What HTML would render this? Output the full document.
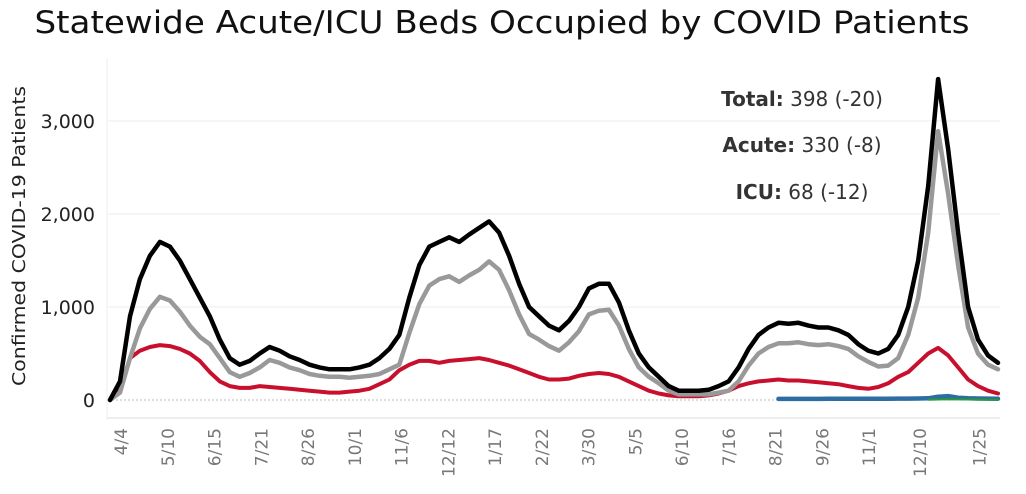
<!DOCTYPE html>
<html><head><meta charset="utf-8">
<style>
html,body{margin:0;padding:0;background:#fff;}
svg{display:block;font-family:"DejaVu Sans","Liberation Sans",sans-serif;}
</style></head>
<body>
<svg id="chart" width="1026" height="494" viewBox="0 0 1026 494" xmlns="http://www.w3.org/2000/svg">
<text x="502" y="33" text-anchor="middle" font-size="31" textLength="935" lengthAdjust="spacingAndGlyphs" fill="#111">Statewide Acute/ICU Beds Occupied by COVID Patients</text>
<g id="grid"></g>
<g id="yaxis"></g>
<g id="xaxis"></g>
<text transform="translate(25,236) rotate(-90)" text-anchor="middle" font-size="18" textLength="300" lengthAdjust="spacingAndGlyphs" fill="#222">Confirmed COVID-19 Patients</text>
<g id="series"></g>
<g font-size="20" fill="#333" text-anchor="middle">
<text x="802" y="106"><tspan font-weight="bold">Total:</tspan> 398 (-20)</text>
<text x="802" y="152"><tspan font-weight="bold">Acute:</tspan> 330 (-8)</text>
<text x="802" y="199"><tspan font-weight="bold">ICU:</tspan> 68 (-12)</text>
</g>
</svg>
<script>
const totalVals=[0,200,900,1300,1550,1700,1650,1500,1300,1100,900,650,450,380,420,500,570,530,470,430,380,350,330,330,330,350,380,450,550,700,1100,1450,1650,1700,1750,1700,1780,1850,1920,1800,1550,1250,1000,900,800,750,850,1000,1200,1250,1250,1050,750,500,350,250,150,100,100,100,110,150,200,350,550,700,780,830,820,830,800,780,780,750,700,600,530,500,550,700,1000,1500,2300,3450,2700,1800,1000,650,480,400];
const acuteVals=[0,80,450,770,980,1110,1070,950,800,680,600,450,300,250,290,350,430,400,350,320,280,260,250,250,240,250,260,280,330,380,720,1030,1230,1300,1330,1270,1340,1400,1490,1400,1180,920,710,650,580,530,620,740,920,960,970,800,550,350,250,180,100,60,60,60,60,80,100,200,370,500,570,610,610,620,600,590,600,580,550,470,410,360,370,450,700,1100,1800,2890,2220,1450,780,500,380,330];
const icuVals=[0,120,450,530,570,590,580,550,500,420,300,200,150,130,130,150,140,130,120,110,100,90,80,80,90,100,120,170,220,320,380,420,420,400,420,430,440,450,430,400,370,330,290,250,220,220,230,260,280,290,280,250,200,150,100,70,50,40,40,40,50,70,100,150,180,200,210,220,210,210,200,190,180,170,150,130,120,140,180,250,300,400,500,560,480,350,220,150,100,70];
const blueStart=67;
const blueVals=[12,12,12,12,12,13,13,13,13,14,14,14,15,15,16,18,35,42,25,18,16,15,14];
const greenStart=82;
const greenVals=[3,5,8,6,5,4,4,3];
const yTicks=[0,1000,2000,3000];
const yTickLabels=["0","1,000","2,000","3,000"];
const xTickDays=[0,36,72,108,144,180,216,252,288,324,360,396,432,468,504,540,576,615,661];
const xTickLabels=["4/4","5/10","6/15","7/21","8/26","10/1","11/6","12/12","1/17","2/22","3/30","5/5","6/10","7/16","8/21","9/26","11/1","12/10","1/25"];

const NS="http://www.w3.org/2000/svg";
const N=totalVals.length;
function xIdx(i){return 110+i*(998-110)/(N-1);}
function xDay(d){return 121+d*1.299;}
function y(v){return 400-v*0.093;}
function mk(tag,attrs,parent){const e=document.createElementNS(NS,tag);for(const k in attrs)e.setAttribute(k,attrs[k]);parent.appendChild(e);return e;}
const grid=document.getElementById('grid'),ya=document.getElementById('yaxis'),xa=document.getElementById('xaxis'),ser=document.getElementById('series');
let vl=mk('line',{x1:107,x2:107,y1:58,y2:420,stroke:'#eee','stroke-width':1},grid);


let bl=mk('line',{x1:107,x2:1000,y1:418,y2:418,stroke:'#eee','stroke-width':2},grid);


yTicks.forEach((t,k)=>{
  if(t>0){const g=mk('line',{x1:108,x2:1000,y1:y(t),y2:y(t),stroke:'#eee','stroke-width':1},grid);
  
  }
  else{const g=mk('line',{x1:108,x2:1000,y1:y(t),y2:y(t),stroke:'#bbb','stroke-width':1,'stroke-dasharray':'2,2'},grid);
  
  }
  const tx=mk('text',{x:95,y:y(t)+7,'text-anchor':'end','font-size':19,fill:'#222'},ya);
  tx.textContent=yTickLabels[k];
  
  
});
xTickDays.forEach((d,k)=>{
  const x=xDay(d);
  const tx=mk('text',{transform:`translate(${x+6},428) rotate(-90)`,'text-anchor':'end','font-size':17,fill:'#777'},xa);
  tx.textContent=xTickLabels[k];
  
  
});
function line(vals,start,color,w,name){
  const pts=vals.map((v,i)=>xIdx(start+i).toFixed(1)+','+y(v).toFixed(1)).join(' ');
  const p=mk('polyline',{points:pts,fill:'none',stroke:color,'stroke-width':w,'stroke-linejoin':'round','stroke-linecap':'round'},ser);
  
  
}
line(icuVals,0,'#c8102e',4,'icu-line');
line(acuteVals,0,'#999',4.5,'acute-line');
line(totalVals,0,'#000',4.5,'total-line');
line(blueVals,blueStart,'#2e6da4',4.5,'blue-series-line');
line(greenVals,greenStart,'#2a9a3a',2,'green-series-line');
</script>
</body></html>
